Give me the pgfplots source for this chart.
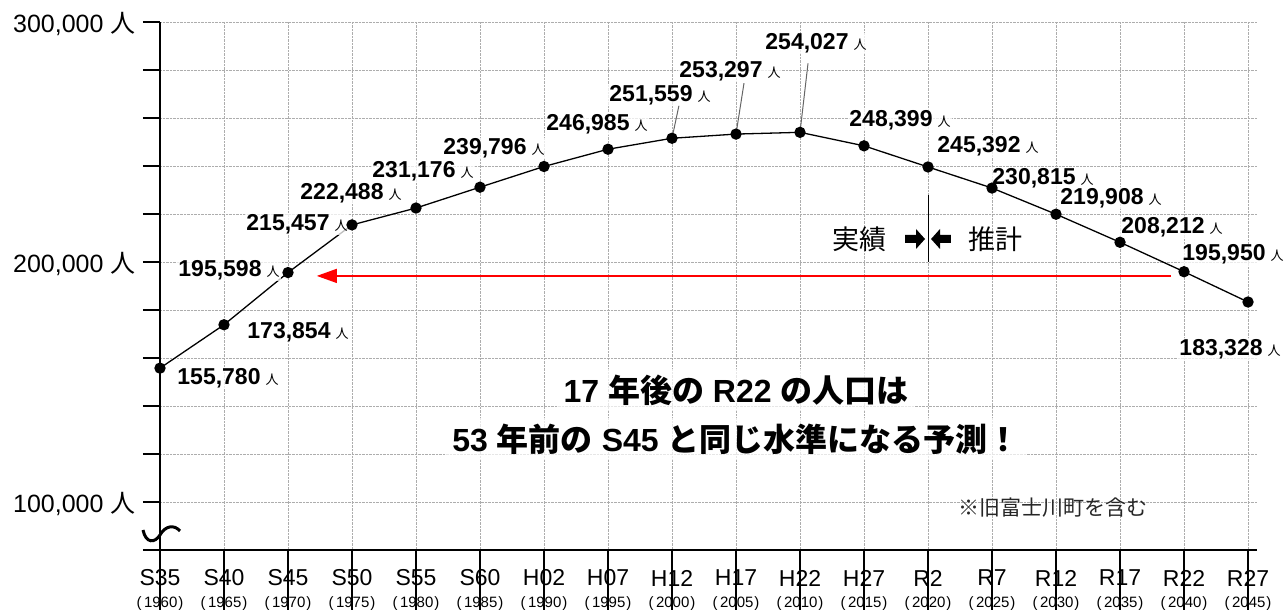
\documentclass[border=0pt]{standalone}
\usepackage{fontspec}
\setmainfont{Liberation Sans}
\newfontfamily\jp{Noto Sans CJK JP}
\usepackage{pgfplots}
\pgfplotsset{compat=1.18}
\usetikzlibrary{calc,arrows.meta}

\newcommand\lab[1]{{\bfseries\fontsize{23}{23}\selectfont #1}\hspace{5pt}{\jp\fontsize{13}{13}\selectfont 人}}
\newcommand\xl[1]{\fontsize{23}{23}\selectfont #1}
\newcommand\yl[1]{{\fontsize{15}{15}\selectfont (\hspace{2.5pt}#1\hspace{1pt})}}
\newcommand\ylab[1]{\fontsize{25}{25}\selectfont #1 {\jp 人}}
\tikzset{lb/.style={fill=white, fill opacity=0.75, text opacity=1, inner sep=1pt},
  hd/.style={fill=white, fill opacity=0.7, text opacity=1, inner sep=6pt}}
\newcommand\hdfont{\bfseries\fontsize{32}{32}\selectfont}

\begin{document}
\begin{tikzpicture}
\begin{axis}[name=ax, scale only axis, width=1097pt, height=528pt,
  xmin=0, xmax=17.14, ymin=80000, ymax=300000,
  axis x line*=bottom, axis y line*=left,
  axis line style={line width=2pt},
  clip=false,
  tick align=outside, major tick length=17pt, minor tick length=17pt,
  tick style={line width=2pt, black},
  xtick={0,...,17},
  xtick style={draw=none},
  xticklabels={}, yticklabels={},
  scaled ticks=false,
  ytick={100000,200000,300000},
  minor ytick={80000,120000,140000,160000,180000,220000,240000,260000,280000},
  grid=both,
  grid style={densely dotted, black!32},
  minor grid style={densely dotted, black!32},
]
\addplot[black, line width=1.3pt, mark=*, mark size=5pt] coordinates {
 (0,155780) (1,173854) (2,195598) (3,215457) (4,222488) (5,231176)
 (6,239796) (7,246985) (8,251559) (9,253297) (10,254027) (11,248399)
 (12,239600) (13,230815) (14,219908) (15,208212) (16,195950) (17,183328)
};

% x ticks (inside)
\draw[line width=1.5pt] (axis cs:0,80000) -- ++(0,8pt) (axis cs:1,80000) -- ++(0,8pt)
 (axis cs:2,80000) -- ++(0,8pt) (axis cs:3,80000) -- ++(0,8pt) (axis cs:4,80000) -- ++(0,8pt)
 (axis cs:5,80000) -- ++(0,8pt) (axis cs:6,80000) -- ++(0,8pt) (axis cs:7,80000) -- ++(0,8pt)
 (axis cs:8,80000) -- ++(0,8pt) (axis cs:9,80000) -- ++(0,8pt) (axis cs:10,80000) -- ++(0,8pt)
 (axis cs:11,80000) -- ++(0,8pt) (axis cs:12,80000) -- ++(0,8pt) (axis cs:13,80000) -- ++(0,8pt)
 (axis cs:14,80000) -- ++(0,8pt) (axis cs:15,80000) -- ++(0,8pt) (axis cs:16,80000) -- ++(0,8pt)
 (axis cs:17,80000) -- ++(0,8pt);

% y labels
\node[anchor=east] at (axis cs:0,100000) [xshift=-21pt, yshift=-2pt] {\ylab{100,000}};
\node[anchor=east] at (axis cs:0,200000) [xshift=-21pt, yshift=-2pt] {\ylab{200,000}};
\node[anchor=east] at (axis cs:0,300000) [xshift=-21pt, yshift=-2pt] {\ylab{300,000}};

% x labels
\node at (axis cs:0,80000) [yshift=-28pt] {\xl{S35}};
\node at (axis cs:1,80000) [yshift=-28pt] {\xl{S40}};
\node at (axis cs:2,80000) [yshift=-28pt] {\xl{S45}};
\node at (axis cs:3,80000) [yshift=-28pt] {\xl{S50}};
\node at (axis cs:4,80000) [yshift=-28pt] {\xl{S55}};
\node at (axis cs:5,80000) [yshift=-28pt] {\xl{S60}};
\node at (axis cs:6,80000) [yshift=-28pt] {\xl{H02}};
\node at (axis cs:7,80000) [yshift=-28pt] {\xl{H07}};
\node at (axis cs:8,80000) [yshift=-28pt] {\xl{H12}};
\node at (axis cs:9,80000) [yshift=-28pt] {\xl{H17}};
\node at (axis cs:10,80000) [yshift=-28pt] {\xl{H22}};
\node at (axis cs:11,80000) [yshift=-28pt] {\xl{H27}};
\node at (axis cs:12,80000) [yshift=-28pt] {\xl{R2}};
\node at (axis cs:13,80000) [yshift=-28pt] {\xl{R7}};
\node at (axis cs:14,80000) [yshift=-28pt] {\xl{R12}};
\node at (axis cs:15,80000) [yshift=-28pt] {\xl{R17}};
\node at (axis cs:16,80000) [yshift=-28pt] {\xl{R22}};
\node at (axis cs:17,80000) [yshift=-28pt] {\xl{R27}};
\node at (axis cs:0,80000) [yshift=-54pt] {\yl{1960}};
\node at (axis cs:1,80000) [yshift=-54pt] {\yl{1965}};
\node at (axis cs:2,80000) [yshift=-54pt] {\yl{1970}};
\node at (axis cs:3,80000) [yshift=-54pt] {\yl{1975}};
\node at (axis cs:4,80000) [yshift=-54pt] {\yl{1980}};
\node at (axis cs:5,80000) [yshift=-54pt] {\yl{1985}};
\node at (axis cs:6,80000) [yshift=-54pt] {\yl{1990}};
\node at (axis cs:7,80000) [yshift=-54pt] {\yl{1995}};
\node at (axis cs:8,80000) [yshift=-54pt] {\yl{2000}};
\node at (axis cs:9,80000) [yshift=-54pt] {\yl{2005}};
\node at (axis cs:10,80000) [yshift=-54pt] {\yl{2010}};
\node at (axis cs:11,80000) [yshift=-54pt] {\yl{2015}};
\node at (axis cs:12,80000) [yshift=-54pt] {\yl{2020}};
\node at (axis cs:13,80000) [yshift=-54pt] {\yl{2025}};
\node at (axis cs:14,80000) [yshift=-54pt] {\yl{2030}};
\node at (axis cs:15,80000) [yshift=-54pt] {\yl{2035}};
\node at (axis cs:16,80000) [yshift=-54pt] {\yl{2040}};
\node at (axis cs:17,80000) [yshift=-54pt] {\yl{2045}};

% red arrow
\draw[red, line width=1.3pt, -{Triangle[length=20pt,width=14pt]}] (axis cs:15.8,194200) -- (axis cs:2.45,194200);

% separator with arrows
\draw[line width=1pt] (axis cs:12,200000) -- (axis cs:12,228000);
\node at (axis cs:12,209400) [xshift=-69pt] {\jp\fontsize{27}{27}\selectfont 実績};
\node at (axis cs:12,209400) [xshift=67pt] {\jp\fontsize{27}{27}\selectfont 推計};
\fill (axis cs:11.641,207917) -- (axis cs:11.8125,207917) -- (axis cs:11.8125,205417) -- (axis cs:11.953,209583) -- (axis cs:11.8125,213750) -- (axis cs:11.8125,211250) -- (axis cs:11.641,211250) -- cycle;
\fill (axis cs:12.359,207917) -- (axis cs:12.1875,207917) -- (axis cs:12.1875,205417) -- (axis cs:12.047,209583) -- (axis cs:12.1875,213750) -- (axis cs:12.1875,211250) -- (axis cs:12.359,211250) -- cycle;

% leader lines
\draw[black!60, line width=1pt] (axis cs:8,251559) -- ++(7pt,33pt);
\draw[black!60, line width=1pt] (axis cs:9,253297) -- ++(8pt,51pt);
\draw[black!60, line width=1pt] (axis cs:10,254027) -- ++(8pt,69pt);

\node[lb] at (axis cs:0,155780) [xshift=68pt, yshift=-10pt] {\lab{155,780}};
\node[lb] at (axis cs:1,173854) [xshift=74pt, yshift=-8pt] {\lab{173,854}};
\node[lb] at (axis cs:2,195598) [xshift=-59pt, yshift=2pt] {\lab{195,598}};
\node[lb] at (axis cs:3,215457) [xshift=-55pt, yshift=1pt] {\lab{215,457}};
\node[lb] at (axis cs:4,222488) [xshift=-65pt, yshift=15pt] {\lab{222,488}};
\node[lb] at (axis cs:5,231176) [xshift=-57pt, yshift=16pt] {\lab{231,176}};
\node[lb] at (axis cs:6,239796) [xshift=-50pt, yshift=18pt] {\lab{239,796}};
\node[lb] at (axis cs:7,246985) [xshift=-11pt, yshift=25pt] {\lab{246,985}};
\node[lb] at (axis cs:8,251559) [xshift=-12pt, yshift=43pt] {\lab{251,559}};
\node[lb] at (axis cs:9,253297) [xshift=-6pt, yshift=63pt] {\lab{253,297}};
\node[lb] at (axis cs:10,254027) [xshift=16pt, yshift=89pt] {\lab{254,027}};
\node[lb] at (axis cs:11,248399) [xshift=36pt, yshift=26pt] {\lab{248,399}};
\node[lb] at (axis cs:12,239600) [xshift=60pt, yshift=21pt] {\lab{245,392}};
\node[lb] at (axis cs:13,230815) [xshift=51pt, yshift=10pt] {\lab{230,815}};
\node[lb] at (axis cs:14,219908) [xshift=55pt, yshift=16pt] {\lab{219,908}};
\node[lb] at (axis cs:15,208212) [xshift=52pt, yshift=15pt] {\lab{208,212}};
\node[lb] at (axis cs:16,195950) [xshift=49pt, yshift=17pt] {\lab{195,950}};
\node[lb] at (axis cs:17,183328) [xshift=-18pt, yshift=-47pt] {\lab{183,328}};

\node[hd] at (axis cs:9.0,146700) {\hdfont 17 {\jp 年後の} R22 {\jp の人口は}};
\node[hd] at (axis cs:9.0,126200) {\hdfont 53 {\jp 年前の} S45 {\jp と同じ水準になる予測！}};

\node[text=black!85] at (axis cs:13.95,97500) {\jp\fontsize{21}{21}\selectfont ※旧富士川町を含む};

% axis break
\draw[line width=3pt] (axis cs:-0.2656,88333) .. controls (axis cs:-0.21875,82500) and (axis cs:-0.078,82917) .. (axis cs:0,86250) .. controls (axis cs:0.078,90000) and (axis cs:0.21875,90833) .. (axis cs:0.3125,87917);
\end{axis}
\pgfresetboundingbox
\path ($(ax.south west)+(-160pt,-60pt)$) rectangle ($(ax.south west)+(1126pt,550pt)$);
\end{tikzpicture}
\end{document}
